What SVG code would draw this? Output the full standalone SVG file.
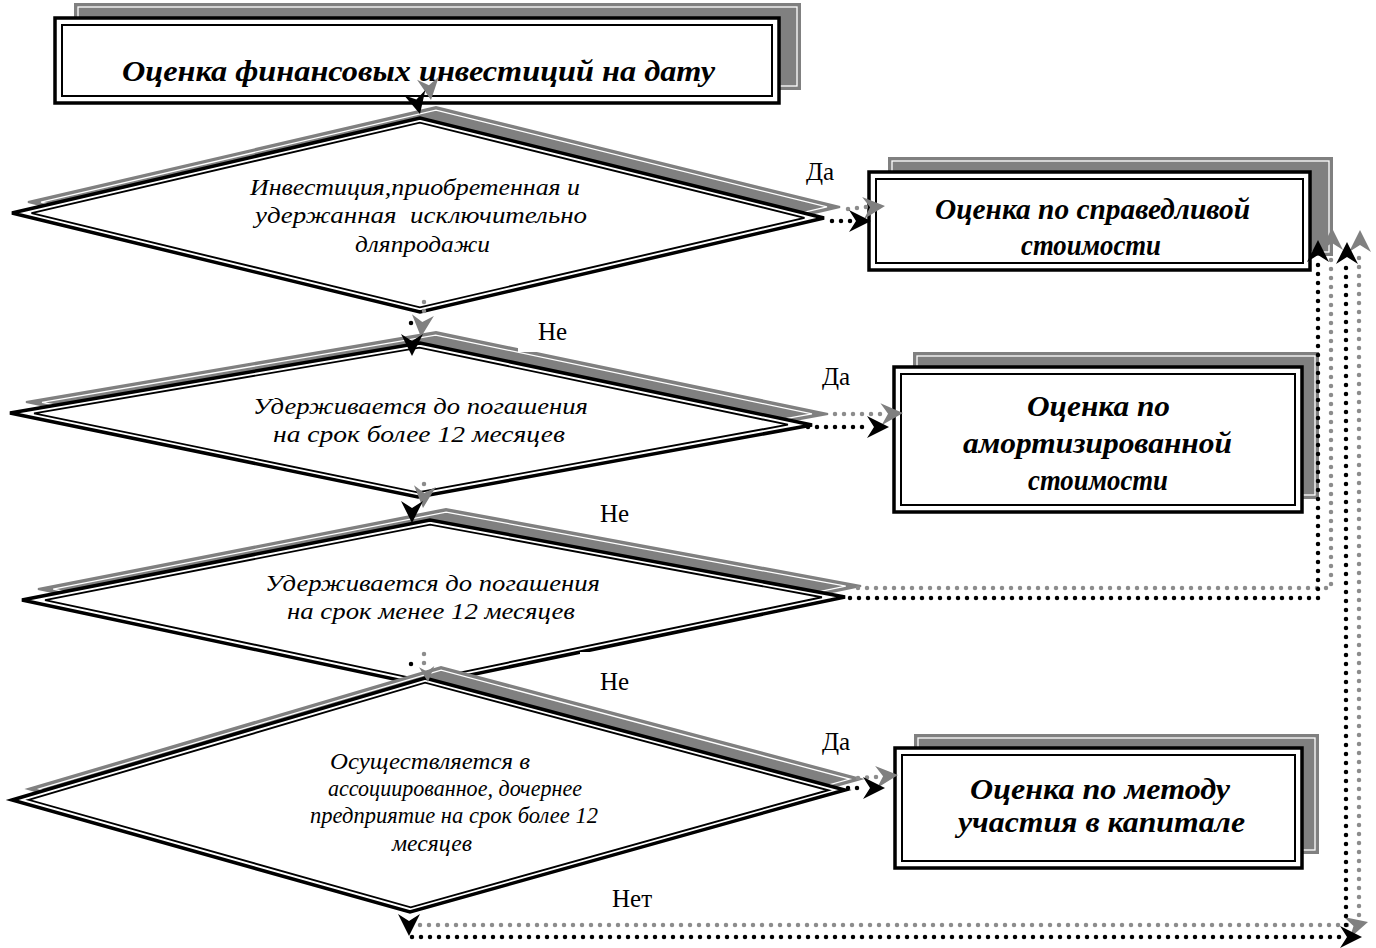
<svg xmlns="http://www.w3.org/2000/svg" xmlns:xlink="http://www.w3.org/1999/xlink" width="1376" height="948" viewBox="0 0 1376 948">
<style>
.sh{fill:#808080;stroke:#808080;stroke-width:2}
.shw{fill:none;stroke:#fff;stroke-width:1.3}
.bo{fill:#fff;stroke:#000;stroke-width:3.5}
.bi{fill:none;stroke:#000;stroke-width:2}
.dk{fill:none;stroke:#000;stroke-width:4.5;stroke-linecap:round;stroke-dasharray:0 9}
.dg{fill:none;stroke:#8c8c8c;stroke-width:4.5;stroke-linecap:round;stroke-dasharray:0 9}
.ak{fill:#000}
.ag{fill:#808080}
.tb{font-family:"Liberation Serif","Times New Roman",serif;font-weight:bold;font-style:italic;font-size:30px;fill:#000}
.ti{font-family:"Liberation Serif","Times New Roman",serif;font-style:italic;font-size:23px;fill:#000}
.lb{font-family:"Liberation Serif","Times New Roman",serif;font-size:25px;fill:#000}
</style>
<defs>
<path id="ah" d="M0,0 L-22,-11 L-15,0 L-22,11 Z"/>
<polygon id="p1" points="12,213 420,118 824,218 420,312"/>
<polygon id="p2" points="10,413 420,343 812,425 418,497"/>
<polygon id="p3" points="22,600 430,520 845,597 422,685"/>
<polygon id="p4" points="12,800 425,678 845,790 410,912"/>
</defs>

<g id="node-top">
<rect class="sh" x="75" y="4" width="725" height="85"/>
<rect class="shw" x="78" y="7" width="719" height="79"/>
<rect class="bo" x="55" y="18" width="724" height="85"/>
<rect class="bi" x="62" y="25" width="710" height="71"/>
<text class="tb" x="122" y="81" textLength="593" lengthAdjust="spacingAndGlyphs">Оценка финансовых инвестиций на дату</text>
</g>

<g id="node-d1">
<use xlink:href="#p1" class="sh" transform="translate(16,-11)"/>
<use xlink:href="#p1" class="shw" transform="translate(16,-11) translate(418,215) scale(0.968) translate(-418,-215)"/>
<use xlink:href="#p1" class="bo"/>
<use xlink:href="#p1" class="bi" transform="translate(418,215) scale(0.952) translate(-418,-215)"/>
<text class="ti" x="250" y="195" textLength="330" lengthAdjust="spacingAndGlyphs">Инвестиция,приобретенная и</text>
<text class="ti" x="255" y="223" textLength="332" lengthAdjust="spacingAndGlyphs" xml:space="preserve">удержанная  исключительно</text>
<text class="ti" x="355" y="252" textLength="135" lengthAdjust="spacingAndGlyphs">дляпродажи</text>
</g>

<g id="node-d2">
<use xlink:href="#p2" class="sh" transform="translate(16,-11)"/>
<use xlink:href="#p2" class="shw" transform="translate(16,-11) translate(411,420) scale(0.96) translate(-411,-420)"/>
<use xlink:href="#p2" class="bo"/>
<use xlink:href="#p2" class="bi" transform="translate(411,420) scale(0.94) translate(-411,-420)"/>
<text class="ti" x="253" y="414" textLength="335" lengthAdjust="spacingAndGlyphs">Удерживается до погашения</text>
<text class="ti" x="273" y="442" textLength="292" lengthAdjust="spacingAndGlyphs">на срок более 12 месяцев</text>
</g>

<g id="node-d3">
<use xlink:href="#p3" class="sh" transform="translate(16,-11)"/>
<use xlink:href="#p3" class="shw" transform="translate(16,-11) translate(433,602) scale(0.963) translate(-433,-602)"/>
<use xlink:href="#p3" class="bo"/>
<use xlink:href="#p3" class="bi" transform="translate(433,602) scale(0.944) translate(-433,-602)"/>
<text class="ti" x="265" y="591" textLength="335" lengthAdjust="spacingAndGlyphs">Удерживается до погашения</text>
<text class="ti" x="287" y="619" textLength="288" lengthAdjust="spacingAndGlyphs">на срок менее 12 месяцев</text>
</g>

<g id="node-d4">
<use xlink:href="#p4" class="sh" transform="translate(16,-11)"/>
<use xlink:href="#p4" class="shw" transform="translate(16,-11) translate(428,795) scale(0.973) translate(-428,-795)"/>
<use xlink:href="#p4" class="bo"/>
<use xlink:href="#p4" class="bi" transform="translate(428,795) scale(0.96) translate(-428,-795)"/>
<text class="ti" x="330" y="769" textLength="200" lengthAdjust="spacingAndGlyphs">Осуществляется в</text>
<text class="ti" x="328" y="796" textLength="254" lengthAdjust="spacingAndGlyphs">ассоциированное, дочернее</text>
<text class="ti" x="310" y="823" textLength="288" lengthAdjust="spacingAndGlyphs">предприятие на срок более 12</text>
<text class="ti" x="392" y="851" textLength="80" lengthAdjust="spacingAndGlyphs">месяцев</text>
</g>

<g id="node-fair">
<rect class="sh" x="889" y="158" width="443" height="97"/>
<rect class="shw" x="892" y="161" width="437" height="91"/>
<rect class="bo" x="869" y="172" width="441" height="98"/>
<rect class="bi" x="876" y="179" width="427" height="84"/>
<text class="tb" x="935" y="219" textLength="315" lengthAdjust="spacingAndGlyphs">Оценка по справедливой</text>
<text class="tb" x="1021" y="255" textLength="140" lengthAdjust="spacingAndGlyphs">стоимости</text>
</g>

<g id="node-amort">
<rect class="sh" x="914" y="353" width="404" height="145"/>
<rect class="shw" x="917" y="356" width="398" height="139"/>
<rect class="bo" x="894" y="367" width="408" height="145"/>
<rect class="bi" x="901" y="374" width="394" height="131"/>
<text class="tb" x="1027" y="416" textLength="143" lengthAdjust="spacingAndGlyphs">Оценка по</text>
<text class="tb" x="963" y="453" textLength="269" lengthAdjust="spacingAndGlyphs">амортизированной</text>
<text class="tb" x="1028" y="490" textLength="140" lengthAdjust="spacingAndGlyphs">стоимости</text>
</g>

<g id="node-equity">
<rect class="sh" x="915" y="735" width="403" height="118"/>
<rect class="shw" x="918" y="738" width="397" height="112"/>
<rect class="bo" x="895" y="748" width="407" height="120"/>
<rect class="bi" x="902" y="755" width="393" height="106"/>
<text class="tb" x="970" y="799" textLength="260" lengthAdjust="spacingAndGlyphs">Оценка по методу</text>
<text class="tb" x="958" y="832" textLength="287" lengthAdjust="spacingAndGlyphs">участия в капитале</text>
</g>

<g id="labels">
<rect x="518" y="313" width="80" height="39" fill="#fff"/>
<rect x="580" y="495" width="80" height="38" fill="#fff"/>
<rect x="580" y="652" width="80" height="40" fill="#fff"/>
<text class="lb" x="806" y="180">Да</text>
<text class="lb" x="538" y="340">Не</text>
<text class="lb" x="822" y="385">Да</text>
<text class="lb" x="600" y="522">Не</text>
<text class="lb" x="600" y="690">Не</text>
<text class="lb" x="822" y="750">Да</text>
<text class="lb" x="612" y="907">Нет</text>
</g>

<g id="connectors">
<use xlink:href="#ah" class="ag" transform="translate(431,100) rotate(82)"/>
<use xlink:href="#ah" class="ak" transform="translate(420,114) rotate(76)"/>
<path class="dg" d="M424,302 L424,316"/>
<path class="dk" d="M411,323 L411,330"/>
<use xlink:href="#ah" class="ag" transform="translate(421,337) rotate(95)"/>
<use xlink:href="#ah" class="ak" transform="translate(412,356) rotate(90)"/>
<path class="dg" d="M424,484 L424,486"/>
<use xlink:href="#ah" class="ag" transform="translate(423,508) rotate(95)"/>
<use xlink:href="#ah" class="ak" transform="translate(412,523) rotate(90)"/>
<path class="dg" d="M424,654 L424,666"/>
<path class="dk" d="M411,664 L411,666"/>
<use xlink:href="#ah" class="ag" transform="translate(428,682) scale(0.7) rotate(85)"/>
<path class="dg" d="M848,209 L866,207"/>
<use xlink:href="#ah" class="ag" transform="translate(885,206) rotate(-5)"/>
<path class="dk" d="M832,221 L853,221"/>
<use xlink:href="#ah" class="ak" transform="translate(871,221)"/>
<path class="dg" d="M835,414 L884,414"/>
<use xlink:href="#ah" class="ag" transform="translate(903,413) rotate(-3)"/>
<path class="dk" d="M808,427 L870,427"/>
<use xlink:href="#ah" class="ak" transform="translate(889,427)"/>
<path class="dg" d="M858,778 L878,777"/>
<use xlink:href="#ah" class="ag" transform="translate(898,775) rotate(-5)"/>
<path class="dk" d="M848,788 L866,788"/>
<use xlink:href="#ah" class="ak" transform="translate(885,788)"/>
<path class="dg" d="M858,588 L1331,588 L1331,252"/>
<use xlink:href="#ah" class="ag" transform="translate(1332,228) rotate(-90)"/>
<path class="dk" d="M850,598 L1318,598 L1318,262"/>
<use xlink:href="#ah" class="ak" transform="translate(1318,240) rotate(-90)"/>
<path class="dg" d="M420,925 L1350,925"/>
<use xlink:href="#ah" class="ag" transform="translate(1368,922) rotate(-15)"/>
<path class="dg" d="M1359,915 L1359,252"/>
<use xlink:href="#ah" class="ag" transform="translate(1360,230) rotate(-90)"/>
<path class="dk" d="M412,937 L1344,937"/>
<use xlink:href="#ah" class="ak" transform="translate(1362,937)"/>
<path class="dk" d="M1346,925 L1346,262"/>
<use xlink:href="#ah" class="ak" transform="translate(1347,242) rotate(-90)"/>
<use xlink:href="#ah" class="ak" transform="translate(409,936) rotate(90)"/>
</g>
</svg>
